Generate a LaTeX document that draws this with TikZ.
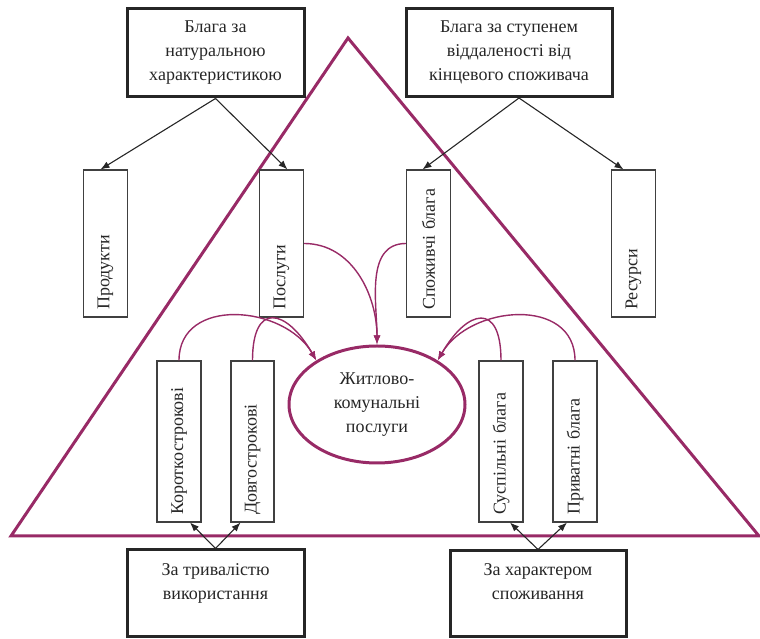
\documentclass[tikz,border=0pt]{standalone}
\usepackage{fontspec}
\setmainfont{Liberation Serif}
\usepackage{tikz}
\usetikzlibrary{shapes,calc,positioning,arrows.meta}
\definecolor{berry}{RGB}{152,42,102}

\begin{document}
\begin{tikzpicture}[x=1pt, y=1pt, >={Latex[length=9pt,width=7pt]},
  font=\fontsize{18}{24}\selectfont,
  category/.style={draw=black!85, line width=3pt, minimum width=177pt, minimum height=88pt, align=center, text=black!85},
  vbox/.style={draw=black!75, line width=1.1pt, rotate=90, minimum height=44pt, inner xsep=7pt, align=left, text width=#1, text=black!85},
  link/.style={->, black!85, line width=1.1pt},
  ties/.style={->, berry, line width=1.4pt}]
  \useasboundingbox (0,0) rectangle (760,639);
  \coordinate (apex) at (348,601);
  \coordinate (baseR) at (759,103);
  \coordinate (baseL) at (11,103);
  \draw[berry, line width=3pt] (apex) -- (baseR) -- (baseL) -- cycle;

    \node (natural) at (215.5,586) [category] {Блага за\\натуральною\\характеристикою};
    \node (distance) at (509,586.5) [category, minimum width=206pt] {Блага за ступенем\\віддаленості від\\кінцевого споживача};

    \node (products) at (105.5,395.5) [vbox=133pt] {Продукти};
    \node (services) at (281.5,395.5) [vbox=133pt] {Послуги};
    \node (consumer) at (428.5,395.5) [vbox=133pt] {Споживчі блага};
    \node (resources) at (633.5,395.5) [vbox=133pt] {Ресурси};

    \node (housing) at (377,234.5) [ellipse, draw=berry, line width=3pt, minimum width=176pt, minimum height=117pt, inner sep=0pt, align=center, text=black!85] {Житлово-\\комунальні\\послуги};

    \node (short) at (179,197.5) [vbox=147pt] {Короткострокові};
    \node (long) at (252.5,197.5) [vbox=147pt, minimum height=43pt] {Довгострокові};
    \node (public) at (501,197.5) [vbox=147pt] {Суспільні блага};
    \node (private) at (575,197.5) [vbox=147pt] {Приватні блага};

    \node (duration) at (215.5,45.5) [category, minimum height=87pt] {За тривалістю\\використання\\\mbox{}};
    \node (character) at (538,45) [category, minimum width=176pt, minimum height=86pt] {За характером\\споживання\\\mbox{}};

  \draw[link] (natural.south) -- ($(products.east)+(-5,0)$);
  \draw[link] (natural.south) -- ($(services.east)+(6,0)$);
  \draw[link] ($(distance.south)+(10,0)$) -- ($(consumer.east)+(-6,0)$);
  \draw[link] ($(distance.south)+(10,0)$) -- ($(resources.east)+(-10,0)$);

  \draw[link] (duration.north) -- ($(short.west)+(11,0)$);
  \draw[link] (duration.north) -- ($(long.west)+(-12,0)$);
  \draw[link] (character.north) -- ($(public.west)+(9,0)$);
  \draw[link] (character.north) -- ($(private.west)+(-8,0)$);

  \draw[ties] (services.south) to[out=0, in=90] (housing.north);
  \draw[ties] (consumer.north) to[out=180, in=90] (housing.north);
  \draw[ties] (short.east) to[out=90, in=120, looseness=1.2] (housing.144);
  \draw[ties] (long.east) to[out=90, in=120, looseness=2.4] (housing.144);
  \draw[ties] (private.east) to[out=90, in=60, looseness=1.2] (housing.36);
  \draw[ties] (public.east) to[out=90, in=60, looseness=2.4] (housing.36);
\end{tikzpicture}
\end{document}
